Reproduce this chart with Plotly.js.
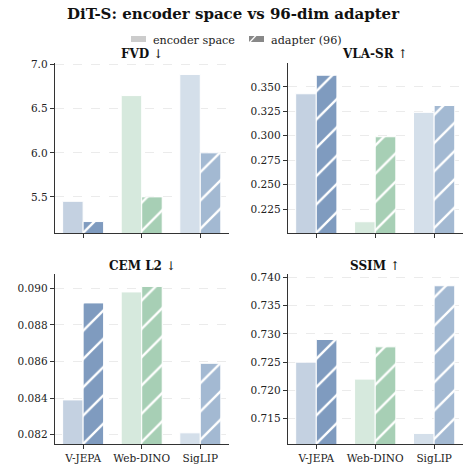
<!DOCTYPE html>
<html>
<head>
<meta charset="utf-8">
<script src="https://cdn.plot.ly/plotly-3.0.1.min.js"></script>
<style>html,body{margin:0;padding:0;background:#fff;}#chart{width:466px;height:468px;}</style>
</head>
<body>
<div id="chart"></div>
<script>
const categories = ['V-JEPA', 'Web-DINO', 'SigLIP'];
const fvdEncoder = [5.45, 6.65, 6.89];
const fvdAdapter = [5.22, 5.50, 6.00];
const vlaEncoder = [0.343, 0.212, 0.324];
const vlaAdapter = [0.362, 0.299, 0.331];
const cemEncoder = [0.0839, 0.0898, 0.0821];
const cemAdapter = [0.0892, 0.0901, 0.0859];
const ssimEncoder = [0.725, 0.722, 0.7124];
const ssimAdapter = [0.729, 0.7277, 0.7385];
const panelTitles = ['FVD ↓', 'VLA-SR ↑', 'CEM L2 ↓', 'SSIM ↑'];
const legendNames = ['encoder space', 'adapter (96)'];

const adapterColors = ['#7f9bbf', '#a7cfb5', '#a3b9d2'];
const encoderColors = ['#c4d1e1', '#d6e9dd', '#d4dfea'];
const FONT = 'DejaVu Serif';

const panels = [
  {enc: fvdEncoder, ad: fvdAdapter, xa: 'x', ya: 'y'},
  {enc: vlaEncoder, ad: vlaAdapter, xa: 'x2', ya: 'y2'},
  {enc: cemEncoder, ad: cemAdapter, xa: 'x3', ya: 'y3'},
  {enc: ssimEncoder, ad: ssimAdapter, xa: 'x4', ya: 'y4'}
];

const traces = [];
panels.forEach((p) => {
  categories.forEach((c, i) => {
    traces.push({
      type: 'bar', x: [c], y: [p.enc[i]], xaxis: p.xa, yaxis: p.ya,
      offsetgroup: 'enc', showlegend: false, hoverinfo: 'skip',
      marker: {color: encoderColors[i], line: {color: '#ffffff', width: 1}}
    });
    traces.push({
      type: 'bar', x: [c], y: [p.ad[i]], xaxis: p.xa, yaxis: p.ya,
      offsetgroup: 'ad', showlegend: false, hoverinfo: 'skip',
      marker: {color: adapterColors[i], line: {color: '#ffffff', width: 1},
        pattern: {shape: '/', fillmode: 'overlay', fgcolor: '#ffffff', fgopacity: 1, size: 20, solidity: 0.12}}
    });
  });
});

function xaxis(domain, anchor, showLabels) {
  return {
    domain: domain, anchor: anchor, type: 'category', range: [-0.48, 2.49],
    categoryorder: 'array', categoryarray: categories,
    showline: true, linecolor: '#333333', linewidth: 1.3, mirror: false,
    ticks: 'outside', ticklen: 4, tickwidth: 1.1, tickcolor: '#333333',
    showticklabels: showLabels, showgrid: false, zeroline: false,
    tickfont: {family: FONT, size: 10.5, color: '#222222'}
  };
}
function yaxis(domain, anchor, range, dtick, fmt) {
  return {
    domain: domain, anchor: anchor, range: range, dtick: dtick, tick0: 0, tickformat: fmt,
    showline: true, linecolor: '#333333', linewidth: 1.3,
    ticks: 'outside', ticklen: 4, tickwidth: 1.1, tickcolor: '#333333',
    showgrid: true, gridcolor: '#e6e6e6', gridwidth: 0.8, griddash: 'dash', zeroline: false,
    tickfont: {family: FONT, size: 10.5, color: '#222222'}
  };
}

const xL = [55/466, 229/466], xR = [288/466, 463/466];
const yT = [1 - 233/468, 1 - 63/468], yB = [1 - 444/468, 1 - 274/468];

const annotations = [
  {text: '<b>DiT-S: encoder space vs 96-dim adapter</b>', x: 0.5, y: 1 - 14/468, xref: 'paper', yref: 'paper',
   showarrow: false, xanchor: 'center', yanchor: 'middle', font: {family: FONT, size: 15, color: '#111111'}},
  {text: legendNames[0], x: 151/466, y: 1 - 40/468, xref: 'paper', yref: 'paper', showarrow: false,
   xanchor: 'left', yanchor: 'middle', font: {family: FONT, size: 11.2, color: '#222222'}},
  {text: legendNames[1], x: 269/466, y: 1 - 40/468, xref: 'paper', yref: 'paper', showarrow: false,
   xanchor: 'left', yanchor: 'middle', font: {family: FONT, size: 11.2, color: '#222222'}}
];
const titlePos = [[142, 54], [375, 54], [142, 266], [375, 266]];
panelTitles.forEach((t, i) => {
  annotations.push({text: '<b>' + t.slice(0, -2) + '</b> ' + t.slice(-1), x: titlePos[i][0]/466, y: 1 - titlePos[i][1]/468,
    xref: 'paper', yref: 'paper', showarrow: false, xanchor: 'center', yanchor: 'middle',
    font: {family: FONT, size: 12, color: '#111111'}});
});

const px = (v) => v/466, py = (v) => 1 - v/468;
const shapes = [
  {type: 'rect', xref: 'paper', yref: 'paper', x0: px(131), x1: px(146), y0: py(42), y1: py(36),
   fillcolor: '#cccccc', line: {width: 0}},
  {type: 'rect', xref: 'paper', yref: 'paper', x0: px(249), x1: px(264), y0: py(42), y1: py(36),
   fillcolor: '#888888', line: {width: 0}},
  {type: 'line', xref: 'paper', yref: 'paper', x0: px(249), x1: px(256), y0: py(43), y1: py(35.5),
   line: {color: '#ffffff', width: 1.2}}
];

const layout = {
  width: 466, height: 468, margin: {l: 0, r: 0, t: 0, b: 0},
  paper_bgcolor: '#ffffff', plot_bgcolor: '#ffffff',
  barmode: 'group', bargap: 0.3, bargroupgap: 0,
  showlegend: false,
  font: {family: FONT, color: '#222222'},
  xaxis: xaxis(xL, 'y', false),
  yaxis: yaxis(yT, 'x', [5.09, 7.02], 0.5, '.1f'),
  xaxis2: xaxis(xR, 'y2', false),
  yaxis2: yaxis(yT, 'x2', [0.2005, 0.3745], 0.025, '.3f'),
  xaxis3: xaxis(xL, 'y3', true),
  yaxis3: yaxis(yB, 'x3', [0.08149, 0.09078], 0.002, '.3f'),
  xaxis4: xaxis(xR, 'y4', true),
  yaxis4: yaxis(yB, 'x4', [0.71053, 0.74058], 0.005, '.3f'),
  annotations: annotations,
  shapes: shapes
};

Plotly.newPlot('chart', traces, layout, {displayModeBar: false, staticPlot: true});
</script>
</body>
</html>
